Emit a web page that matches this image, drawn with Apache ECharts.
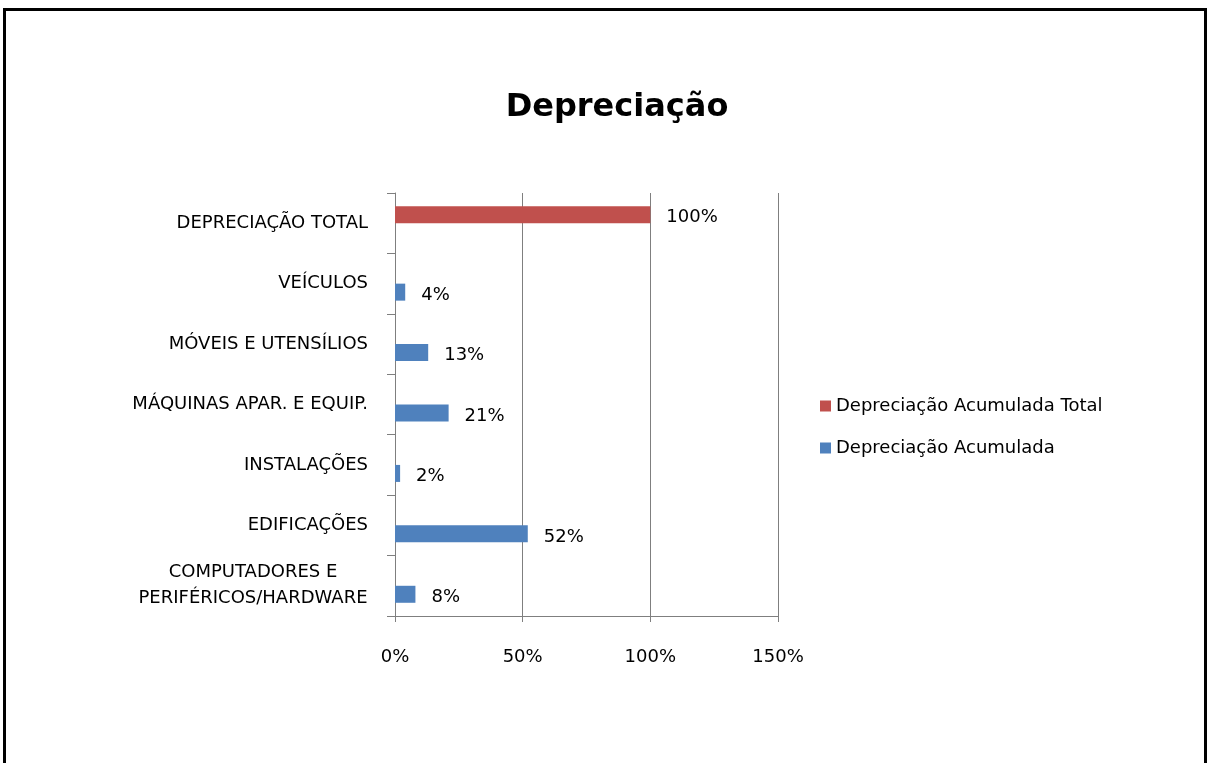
<!DOCTYPE html>
<html>
<head>
<meta charset="utf-8">
<style>
  html, body { margin: 0; padding: 0; background: #fff; }
  #chart { width: 1209px; height: 763px; }
</style>
<script src="https://cdn.jsdelivr.net/npm/echarts@6/dist/echarts.min.js"></script>
</head>
<body>
<div id="chart"></div>
<script>
// categories from bottom to top, as on the axis
var categories = [
    'COMPUTADORES E\nPERIFÉRICOS/HARDWARE',
    'EDIFICAÇÕES',
    'INSTALAÇÕES',
    'MÁQUINAS APAR. E EQUIP.',
    'MÓVEIS E UTENSÍLIOS',
    'VEÍCULOS',
    'DEPRECIAÇÃO TOTAL'
];
var totalValues = ['-', '-', '-', '-', '-', '-', 100];
var itemValues = [8, 52, 2, 21, 13, 4, '-'];
var xTicks = [0, 50, 100, 150];

var font = 'DejaVu Sans';

var chart = echarts.init(document.getElementById('chart'));

var yData = categories.map(function (c) {
    if (c.indexOf('\n') >= 0) {
        // two line label is centred in Excel
        return { value: c, textStyle: { align: 'center', padding: [6, 230, 0, 0] } };
    }
    return c;
});

var barLabel = {
    show: true, position: 'right', distance: 16,
    offset: [0, 3],
    formatter: '{c}%',
    fontFamily: font, fontSize: 18, color: '#000'
};

chart.setOption({
    animation: false,
    title: {
        text: 'Depreciação',
        left: 612,
        top: 87,
        textAlign: 'center',
        textStyle: { fontFamily: font, fontSize: 32, fontWeight: 'bold', color: '#000' }
    },
    legend: {
        orient: 'vertical',
        left: 815,
        top: 392,
        itemWidth: 11,
        itemHeight: 11,
        itemGap: 24,
        icon: 'rect',
        textStyle: { fontFamily: font, fontSize: 18, color: '#000' },
        data: ['Depreciação Acumulada Total', 'Depreciação Acumulada']
    },
    grid: { left: 395, right: 431, top: 193, height: 423, containLabel: false },
    xAxis: {
        type: 'value',
        min: xTicks[0],
        max: xTicks[xTicks.length - 1],
        interval: 50,
        axisLine: { show: true, lineStyle: { color: '#7f7f7f', width: 1 } },
        axisTick: { show: true, length: 6, lineStyle: { color: '#7f7f7f' } },
        splitLine: { show: true, lineStyle: { color: '#7f7f7f', width: 1 } },
        axisLabel: {
            margin: 32,
            formatter: '{value}%',
            fontFamily: font, fontSize: 18, color: '#000'
        }
    },
    yAxis: {
        type: 'category',
        data: yData,
        axisLine: { show: true, lineStyle: { color: '#7f7f7f', width: 1 } },
        axisTick: { show: true, length: 8, lineStyle: { color: '#7f7f7f' } },
        axisLabel: {
            margin: 27,
            fontFamily: font, fontSize: 18, color: '#000',
            lineHeight: 26
        }
    },
    series: [
        {
            name: 'Depreciação Acumulada Total',
            type: 'bar',
            data: totalValues,
            barWidth: 17,
            barGap: '0%',
            itemStyle: { color: '#C0504D' },
            label: barLabel
        },
        {
            name: 'Depreciação Acumulada',
            type: 'bar',
            data: itemValues,
            barWidth: 17,
            barGap: '0%',
            itemStyle: { color: '#4F81BD' },
            label: barLabel
        }
    ],
    graphic: [
        {
            type: 'rect',
            shape: { x: 4.5, y: 9.5, width: 1201, height: 800 },
            style: { fill: null, stroke: '#000', lineWidth: 3 },
            silent: true
        }
    ]
});
</script>
</body>
</html>
